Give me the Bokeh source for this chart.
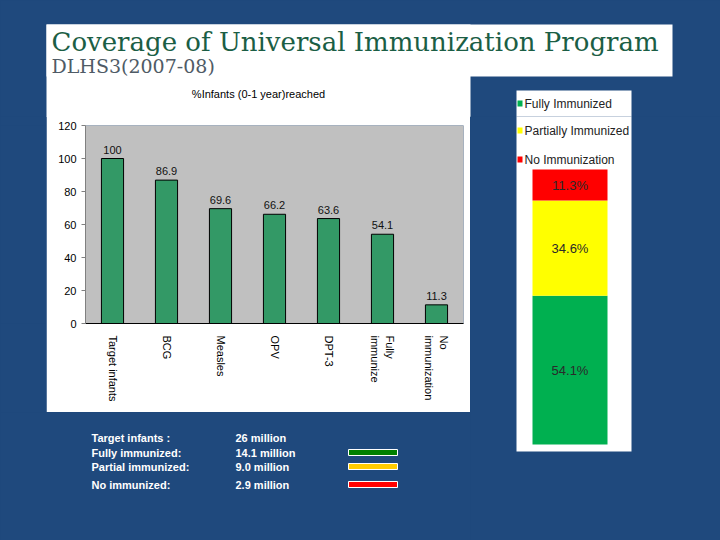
from bokeh.plotting import figure
from bokeh.layouts import row, column
from bokeh.models import Range1d, FactorRange, FixedTicker, ColumnDataSource
from bokeh.core.properties import value
from bokeh.embed import file_html
from bokeh.resources import INLINE

# ---------------- data ----------------
title_text = "Coverage of Universal Immunization Program"
subtitle_text = "DLHS3(2007-08)"
chart_title = "%Infants (0-1 year)reached"

categories = ["Target infants", "BCG", "Measles", "OPV", "DPT-3",
              "Fully\nimmunize", "No\nimmunization"]
coverage = [100, 86.9, 69.6, 66.2, 63.6, 54.1, 11.3]
y_ticks = [0, 20, 40, 60, 80, 100, 120]

status_names = ["Fully Immunized", "Partially Immunized", "No Immunization"]
status_pct = [54.1, 34.6, 11.3]
status_colors = ["#00B050", "#FFFF00", "#FF0000"]

summary_labels = ["Target infants :", "Fully immunized:", "Partial immunized:", "No immunized:"]
summary_values = ["26 million", "14.1 million", "9.0 million", "2.9 million"]
summary_swatches = [None, "#008000", "#FFCC00", "#FF0000"]

# ---------------- styling / layout ----------------
BG = "#1F497D"
SANS = "Liberation Sans"
NARROW = "Liberation Sans Narrow, Liberation Sans"
BGSTYLE = {"background-color": BG}
SPLIT = 116          # page y where the header strip ends and the body starts
LEG_Y = [103, 130, 159]


def canvas(w, h, x0, x1, y0, y1, fill=BG):
    f = figure(width=w, height=h, x_range=Range1d(x0, x1), y_range=Range1d(y1, y0),
               output_backend="svg", toolbar_location=None,
               x_axis_location=None, y_axis_location=None, min_border=0,
               background_fill_color=fill, border_fill_color=fill,
               outline_line_color=None)
    f.grid.grid_line_color = None
    f.grid.visible = False
    return f


def right_panel(f, upper):
    """White legend panel of the stacked bar; each canvas gets only its own items."""
    f.quad(left=516, right=631, top=90, bottom=451, fill_color="white", line_color=None)
    idx = [i for i, yy in enumerate(LEG_Y) if (yy < SPLIT) == upper]
    if not idx:
        return
    ys = [LEG_Y[i] for i in idx]
    f.quad(left=[517] * len(ys), right=[522] * len(ys), top=[yy - 3 for yy in ys],
           bottom=[yy + 3 for yy in ys], fill_color=[status_colors[i] for i in idx],
           line_color=None)
    f.text(x=[524] * len(ys), y=ys, text=[status_names[i] for i in idx],
           text_font=value(NARROW), text_font_size="12px", text_color="#222222",
           text_baseline="middle")


# ---- header strip (page y 0..117, overlapped 1px by the body) ----
T = canvas(720, SPLIT + 1, 0, 720, 0, SPLIT + 1)
T.quad(left=46, right=672, top=24, bottom=76, fill_color="white", line_color=None)
T.quad(left=46, right=470, top=24, bottom=SPLIT + 1, fill_color="white", line_color=None)
T.text(x=[51], y=[41], text=[title_text], text_font=value("DejaVu Serif"),
       text_font_size="26px", text_color="#1B5E45", text_baseline="middle")
T.text(x=[51], y=[65], text=[subtitle_text], text_font=value("DejaVu Serif"),
       text_font_size="19px", text_color="#4F5B66", text_baseline="middle")
T.text(x=[258], y=[93], text=[chart_title], text_font=value(SANS),
       text_font_size="11px", text_color="black", text_align="center",
       text_baseline="middle")
right_panel(T, True)

# ---- left blue strip ----
L = canvas(46, 412 - SPLIT, 0, 46, SPLIT, 412)

# ---- bar chart (page x 46..470, y 116..412) ----
B = figure(width=424, height=412 - SPLIT, x_range=FactorRange(factors=categories),
           y_range=Range1d(0, 120), output_backend="svg", toolbar_location=None,
           min_border_left=39, min_border_right=7, min_border_top=125 - SPLIT,
           min_border_bottom=89,
           background_fill_color="#C0C0C0", border_fill_color="white",
           outline_line_color=None)
B.x_range.range_padding = 0
B.grid.visible = False

src = ColumnDataSource(dict(cat=categories, val=coverage,
                            lab=[f"{v:g}" for v in coverage]))
B.vbar(x="cat", top="val", width=0.41, source=src,
       fill_color="#339966", line_color="black", line_width=1)
B.text(x="cat", y="val", text="lab", source=src, text_align="center",
       text_baseline="bottom", y_offset=-5, text_font=value(SANS),
       text_font_size="11px", text_color="#111111")

B.xaxis.major_label_orientation = "vertical"
B.xaxis.major_tick_line_color = None
B.xaxis.minor_tick_line_color = None
B.xaxis.axis_line_color = "black"
B.xaxis.major_label_standoff = 6
B.xaxis.major_label_text_font = SANS
B.xaxis.major_label_text_font_size = "11px"
B.xaxis.major_label_text_color = "black"

B.yaxis.ticker = FixedTicker(ticks=y_ticks)
B.yaxis.minor_tick_line_color = None
B.yaxis.axis_line_color = "#808080"
B.yaxis.major_tick_line_color = "#808080"
B.yaxis.major_tick_out = 4
B.yaxis.major_tick_in = 0
B.yaxis.major_label_standoff = 5
B.yaxis.major_label_text_font = SANS
B.yaxis.major_label_text_font_size = "11px"
B.yaxis.major_label_text_color = "black"

# ---- bottom summary text (page x 0..470, y 412..540) ----
D = canvas(470, 128, 0, 470, 412, 540)
row_y = [437, 452, 466, 484]
D.text(x=[91] * 4, y=row_y, text=summary_labels, text_font=value(SANS),
       text_font_size="11px", text_font_style="bold", text_color="white",
       text_baseline="middle")
D.text(x=[235] * 4, y=row_y, text=summary_values, text_font=value(SANS),
       text_font_size="11px", text_font_style="bold", text_color="white",
       text_baseline="middle")
sw_y = [yy for yy, c in zip(row_y, summary_swatches) if c]
sw_c = [c for c in summary_swatches if c]
D.quad(left=[348] * len(sw_y), right=[397] * len(sw_y),
       top=[yy - 3 for yy in sw_y], bottom=[yy + 3 for yy in sw_y],
       fill_color=sw_c, line_color="white", line_width=1)

# ---- right stacked bar (page x 470..720, y 116..540) ----
R = canvas(250, 540 - SPLIT, 470, 720, SPLIT, 540)
# 0 % sits at page y 444, 100 % at page y 169 (2.75 px per %)
R.extra_y_ranges = {"pct": Range1d(-(540 - 444) / 2.75, 100 + (169 - SPLIT) / 2.75)}
right_panel(R, False)

stack_keys = ["full", "partial", "none"]
ssrc = ColumnDataSource(dict(x=[569.5], full=[status_pct[0]],
                             partial=[status_pct[1]], none=[status_pct[2]]))
R.vbar_stack(stack_keys, x="x", width=75, color=status_colors, source=ssrc,
             y_range_name="pct", line_color=None)
mids, cum = [], 0.0
for v in status_pct:
    mids.append(cum + v / 2)
    cum += v
R.text(x=[569.5] * 3, y=mids, text=[f"{v}%" for v in status_pct], y_range_name="pct",
       text_font=value(NARROW), text_font_size="13px", text_color="#2A2A2A",
       text_align="center", text_baseline="middle")

top_row = row(L, B)
left_col = column(top_row, D)
body = row(left_col, R, margin=(-1, 0, 0, 0))
layout = column(T, body, styles=BGSTYLE)

open("out.html", "w").write(file_html(layout, INLINE))
